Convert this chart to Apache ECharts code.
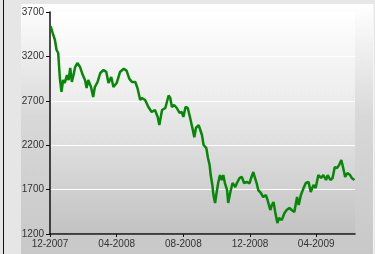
<!DOCTYPE html>
<html>
<head>
<meta charset="utf-8">
<script src="https://cdn.jsdelivr.net/npm/echarts@6/dist/echarts.min.js"></script>
<style>
  html, body { margin: 0; padding: 0; }
  body { width: 375px; height: 254px; background: #e6e6e6; position: relative; overflow: hidden; }
  .rule { position: absolute; left: 3px; top: 0; width: 1px; height: 254px; background: #111; }
  .panel {
    position: absolute; left: 21px; top: 4px; width: 352px; height: 250px;
    background: linear-gradient(#ffffff, #d8d8d8 45%, #c8c8c8);
    border-right: 1px solid #f4f4f4;
  }
  #chart { position: absolute; left: 0; top: 0; width: 375px; height: 254px; }
</style>
</head>
<body>
<div class="rule"></div>
<div class="panel"></div>
<div id="chart"></div>
<script>
// days counted from 1 Dec 2007
const startDate = Date.UTC(2007, 11, 1);
const days = [1, 6, 9, 12, 15, 18, 21, 24, 27, 31, 34, 37, 40, 43, 46, 50, 55, 60, 64, 67,
  70, 75, 79, 82, 87, 92, 98, 103, 107, 112, 116, 122, 128, 135, 140, 145, 150, 156, 160, 165,
  168, 174, 180, 186, 192, 197, 200, 205, 211, 217, 220, 223, 227, 232, 237, 241, 244, 248, 252, 256,
  261, 264, 267, 272, 275, 278, 281, 286, 289, 292, 294, 297, 299, 302, 305, 308, 311, 314, 317, 320,
  324, 326, 330, 334, 339, 342, 347, 351, 355, 360, 365, 368, 372, 375, 378, 381, 386, 390, 395, 398,
  403, 406, 409, 412, 416, 419, 424, 429, 433, 438, 442, 447, 452, 455, 459, 464, 468, 473, 477, 482,
  486, 491, 496, 500, 505, 508, 513, 517, 521, 525, 529, 533, 536, 540, 544, 549, 552, 557];
const values = [3542, 3441, 3385, 3272, 3238, 2957, 2800, 2934, 2900, 2990, 2934, 3070, 2912, 2990, 3080, 3126, 3080, 2990, 2934, 2844,
  2934, 2855, 2743, 2855, 2912, 3013, 3047, 3024, 2900, 2968, 2855, 2900, 3024, 3060, 3040, 2950, 2912, 2912, 2844, 2709,
  2732, 2709, 2630, 2574, 2596, 2518, 2427, 2596, 2619, 2760, 2732, 2630, 2653, 2619, 2563, 2574, 2518, 2630, 2619, 2518,
  2380, 2290, 2394, 2427, 2371, 2315, 2202, 2168, 2056, 1977, 1864, 1752, 1639, 1549, 1673, 1786, 1864, 1808, 1864, 1774,
  1695, 1549, 1673, 1774, 1730, 1774, 1831, 1842, 1774, 1786, 1770, 1831, 1898, 1831, 1774, 1695, 1661, 1616, 1639, 1583,
  1470, 1527, 1560, 1448, 1324, 1380, 1358, 1437, 1470, 1493, 1470, 1448, 1616, 1527, 1639, 1718, 1774, 1786, 1673, 1752,
  1718, 1864, 1831, 1864, 1808, 1864, 1808, 1831, 1954, 1943, 1977, 2033, 1954, 1842, 1887, 1864, 1831, 1808];
const monthTicks = [0, 122, 244, 366, 487];
const yTicks = [1200, 1700, 2200, 2700, 3200, 3700];

const chart = echarts.init(document.getElementById('chart'));
const points = days.map((d, i) => [d, values[i]]);

const monthLabel = (v) => {
  const dt = new Date(startDate + Math.round(v) * 86400000 + 12 * 3600000);
  const m = dt.getUTCMonth() + 1;
  return (m < 10 ? '0' + m : m) + '-' + dt.getUTCFullYear();
};

chart.setOption({
  animation: false,
  grid: {
    left: 50, top: 12, right: 20, bottom: 20,
    show: true, borderWidth: 0,
    backgroundColor: new echarts.graphic.LinearGradient(0, 0, 0, 1, [
      { offset: 0, color: '#ffffff' },
      { offset: 0.4, color: '#ececec' },
      { offset: 1, color: '#c2c2c2' }
    ])
  },
  xAxis: {
    type: 'value', min: 0, max: 558,
    axisLine: { lineStyle: { color: '#111', width: 1.5 } },
    axisTick: { show: true, length: 3, customValues: monthTicks, lineStyle: { color: '#111' } },
    axisLabel: {
      customValues: monthTicks, formatter: monthLabel,
      color: '#333', fontSize: 10, fontFamily: 'Liberation Sans, Arial, sans-serif', margin: 5
    },
    splitLine: { show: false }
  },
  yAxis: {
    type: 'value', min: yTicks[0], max: yTicks[yTicks.length - 1], interval: 500,
    axisLine: { show: true, lineStyle: { color: '#111', width: 1.5 } },
    axisTick: { show: true, length: 4, lineStyle: { color: '#111' } },
    axisLabel: {
      formatter: (v) => String(v),
      color: '#333', fontSize: 10, fontFamily: 'Liberation Sans, Arial, sans-serif', margin: 6
    },
    splitLine: { lineStyle: { color: '#ffffff', width: 1 } }
  },
  series: [{
    type: 'line',
    data: points,
    showSymbol: false,
    lineStyle: { color: '#078707', width: 2.5 },
    z: 3
  }]
});
</script>
</body>
</html>
